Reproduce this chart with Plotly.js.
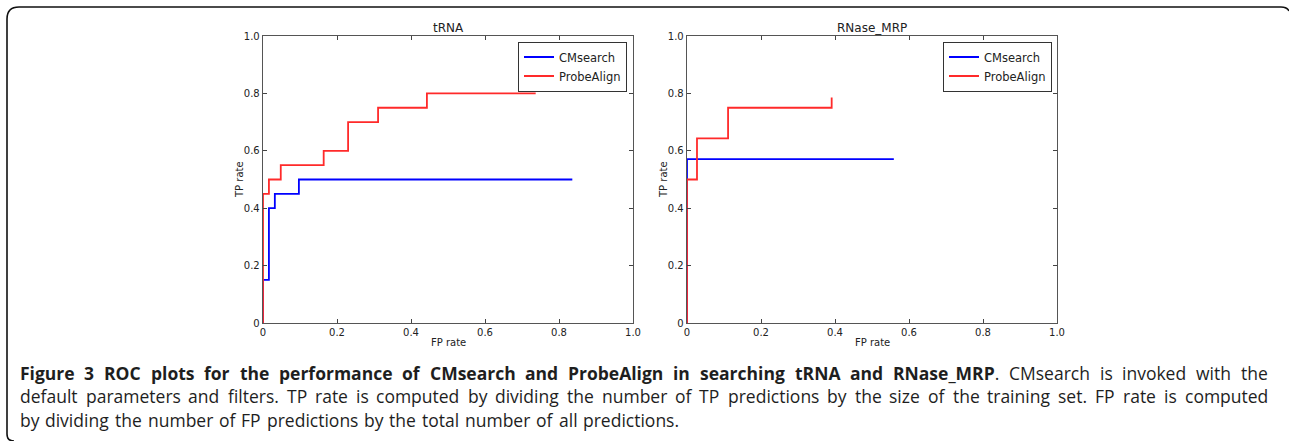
<!DOCTYPE html>
<html>
<head>
<meta charset="utf-8">
<script src="https://cdn.plot.ly/plotly-3.0.1.min.js"></script>
<style>
html,body{margin:0;padding:0;background:#fff;}
#chart{width:1289px;height:441px;}
</style>
</head>
<body>
<div id="chart"></div>
<script>
// ---- data ----
const panelTitles = ["tRNA", "RNase_MRP"];
const seriesNames = ["CMsearch", "ProbeAlign"];
const tickVals = [0, 0.2, 0.4, 0.6, 0.8, 1.0];
const tickText = ["0", "0.2", "0.4", "0.6", "0.8", "1.0"];

const trnaCmFP = [0, 0, 0.016, 0.032, 0.097, 0.836];
const trnaCmTP = [0, 0.15, 0.40, 0.45, 0.50, 0.50];
const trnaPaFP = [0, 0, 0.016, 0.048, 0.164, 0.230, 0.311, 0.443, 0.737];
const trnaPaTP = [0, 0.45, 0.50, 0.55, 0.60, 0.70, 0.75, 0.80, 0.80];

const mrpCmFP = [0, 0, 0.559];
const mrpCmTP = [0, 0.571, 0.571];
const mrpPaFP = [0, 0, 0.027, 0.111, 0.391];
const mrpPaTP = [0, 0.50, 0.643, 0.75, 0.786];

const captionBold = "Figure 3 ROC plots for the performance of CMsearch and ProbeAlign in searching tRNA and RNase_MRP";
const captionLine1Rest = ". CMsearch is invoked with the";
const captionLine2 = "default parameters and filters. TP rate is computed by dividing the number of TP predictions by the size of the training set. FP rate is computed";
const captionLine3 = "by dividing the number of FP predictions by the total number of all predictions.";

// ---- layout helpers ----
const W = 1289, H = 441;
const px = x => x / W;
const py = y => 1 - y / H;

const blue = "#0000ff", red = "#ff2a2a";
const lw = 1.8;

const traces = [
  {x: trnaCmFP, y: trnaCmTP, name: seriesNames[0], mode: "lines", line: {color: blue, width: lw, shape: "hv"}, xaxis: "x", yaxis: "y", legend: "legend"},
  {x: trnaPaFP, y: trnaPaTP, name: seriesNames[1], mode: "lines", line: {color: red, width: lw, shape: "hv"}, xaxis: "x", yaxis: "y", legend: "legend"},
  {x: mrpCmFP, y: mrpCmTP, name: seriesNames[0], mode: "lines", line: {color: blue, width: lw, shape: "hv"}, xaxis: "x2", yaxis: "y2", legend: "legend2"},
  {x: mrpPaFP, y: mrpPaTP, name: seriesNames[1], mode: "lines", line: {color: red, width: lw, shape: "hv"}, xaxis: "x2", yaxis: "y2", legend: "legend2"}
];

const tickFont = {family: "DejaVu Sans", size: 10, color: "#222"};
function axisBase(extra) {
  return Object.assign({
    range: [0, 1], tickmode: "array", tickvals: tickVals, ticktext: tickText,
    ticks: "inside", ticklen: 4, tickwidth: 1, tickcolor: "#444",
    showline: true, linecolor: "#555", linewidth: 1.3, mirror: "ticks",
    showgrid: false, zeroline: false, fixedrange: true, tickfont: tickFont,
    automargin: false
  }, extra);
}

const yDom = [py(323), py(36)];
const L = {x0: 263, x1: 633}, R = {x0: 687, x1: 1057};

const legendBase = {
  bgcolor: "#fff", bordercolor: "#333", borderwidth: 1,
  font: {family: "DejaVu Sans", size: 11.5, color: "#222"},
  xanchor: "right", yanchor: "top", tracegroupgap: 0, itemwidth: 30
};

// ---- caption (justified words) ----
const annotations = [];
const capSize = 17.5;
const capFamily = "Open Sans";
const capColor = "#1e1e1e";
const canvas = document.createElement("canvas");
const ctx = canvas.getContext("2d");
function measure(t, bold) {
  ctx.font = (bold ? "bold " : "") + capSize + "px '" + capFamily + "'";
  return ctx.measureText(t).width;
}
function placeLine(tokens, yCenter, x0, x1, justify) {
  const total = tokens.reduce((s, t) => s + t.width, 0);
  const spaceW = measure(" ", false) * 1.3;
  const gap = justify ? (x1 - x0 - total) / (tokens.length - 1) : spaceW;
  let x = x0;
  tokens.forEach(t => {
    annotations.push({
      xref: "paper", yref: "paper", x: px(x - 1), y: py(yCenter),
      xanchor: "left", yanchor: "middle", showarrow: false, text: t.html,
      font: {family: capFamily, size: capSize, color: capColor}, borderpad: 0
    });
    x += t.width + gap;
  });
}
const boldWords = captionBold.split(" ");
const restWords = captionLine1Rest.split(" ");
const line1 = [];
boldWords.forEach((w, i) => {
  if (i === boldWords.length - 1) {
    line1.push({html: "<b>" + w + "</b>" + restWords[0], width: measure(w, true) + measure(restWords[0], false)});
  } else {
    line1.push({html: "<b>" + w + "</b>", width: measure(w, true)});
  }
});
restWords.slice(1).forEach(w => line1.push({html: w, width: measure(w, false)}));
placeLine(line1, 372.5, 20, 1268, true);
placeLine(captionLine2.split(" ").map(w => ({html: w, width: measure(w, false)})), 396, 20, 1268, true);
placeLine(captionLine3.split(" ").map(w => ({html: w, width: measure(w, false)})), 419.5, 20, 1268, false);

// ---- panel / axis titles ----
const titleFont = {family: "DejaVu Sans", size: 12, color: "#222"};
const labFont = {family: "DejaVu Sans", size: 10, color: "#222"};
[[L, panelTitles[0]], [R, panelTitles[1]]].forEach(([p, t]) => {
  const cx = (p.x0 + p.x1) / 2;
  annotations.push({xref: "paper", yref: "paper", x: px(cx), y: py(28), xanchor: "center", yanchor: "middle", showarrow: false, text: t, font: titleFont});
  annotations.push({xref: "paper", yref: "paper", x: px(cx), y: py(342), xanchor: "center", yanchor: "middle", showarrow: false, text: "FP rate", font: labFont});
  annotations.push({xref: "paper", yref: "paper", x: px(p.x0 - 24), y: py(180), xanchor: "center", yanchor: "middle", showarrow: false, text: "TP rate", textangle: -90, font: labFont});
});

const layout = {
  width: W, height: H,
  margin: {l: 0, r: 0, t: 0, b: 0, pad: 0},
  paper_bgcolor: "#fff", plot_bgcolor: "#fff",
  font: {family: "DejaVu Sans", color: "#222"},
  showlegend: true,
  xaxis: axisBase({domain: [px(L.x0), px(L.x1)], anchor: "y"}),
  yaxis: axisBase({domain: yDom, anchor: "x"}),
  xaxis2: axisBase({domain: [px(R.x0), px(R.x1)], anchor: "y2"}),
  yaxis2: axisBase({domain: yDom, anchor: "x2"}),
  legend: Object.assign({}, legendBase, {x: px(627), y: py(41.5)}),
  legend2: Object.assign({}, legendBase, {x: px(1052), y: py(41.5)}),
  annotations: annotations,
  shapes: [{
    type: "path", xref: "paper", yref: "paper",
    path: "M " + px(14) + "," + py(441) + " Q " + px(7) + "," + py(441) + " " + px(7) + "," + py(434) +
          " L " + px(7) + "," + py(19) + " Q " + px(7) + "," + py(7) + " " + px(19) + "," + py(7) +
          " L " + px(1281) + "," + py(7) + " Q " + px(1287) + "," + py(7) + " " + px(1289) + "," + py(11),
    line: {color: "#111", width: 1.6}
  }]
};

Plotly.newPlot("chart", traces, layout, {displayModeBar: false, staticPlot: true});
</script>
</body>
</html>
